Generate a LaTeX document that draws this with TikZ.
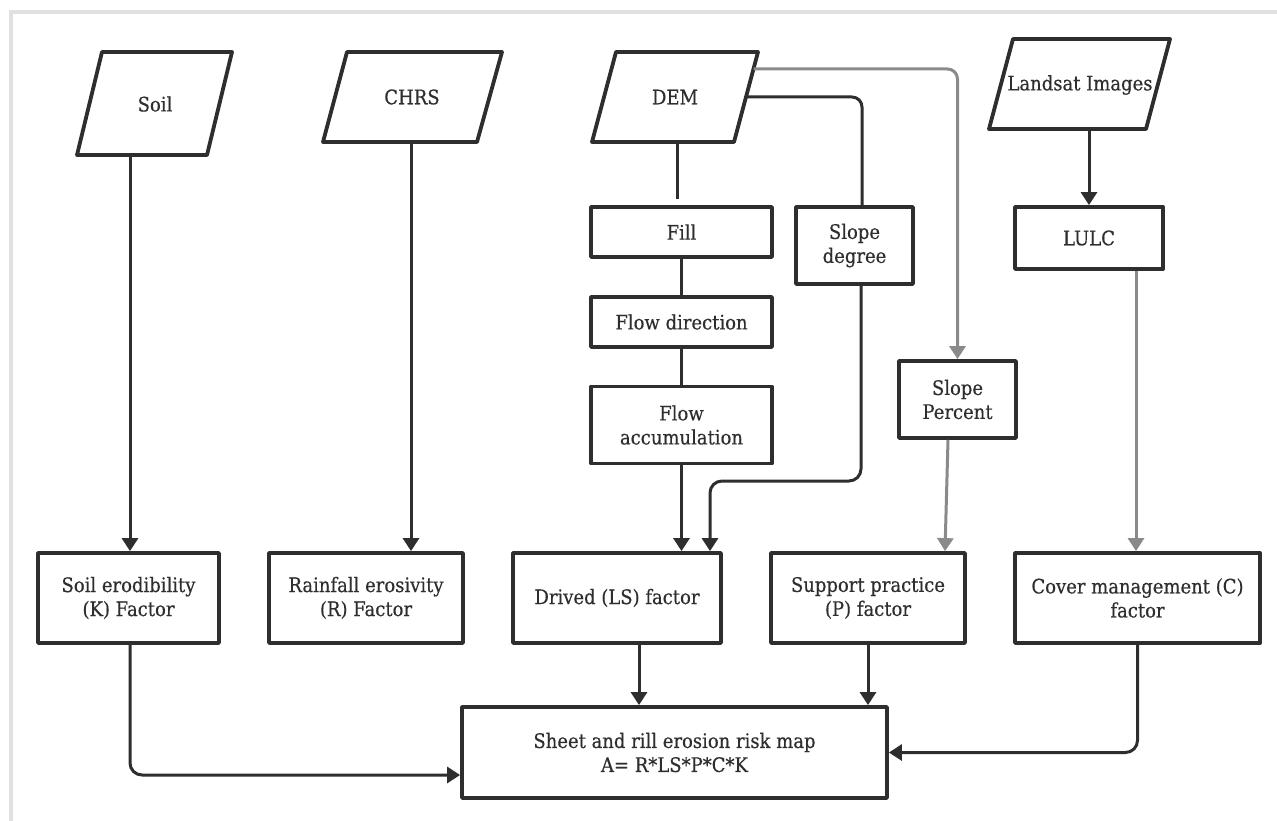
\documentclass[tikz,border=0pt]{standalone}
\usepackage{fontspec}
\setmainfont{DejaVu Serif}[FakeStretch=0.9,FakeBold=0.4]
\usetikzlibrary{arrows.meta,calc}
\definecolor{ink}{HTML}{2E2E2E}
\definecolor{greyline}{HTML}{8A8A8A}
\definecolor{framec}{HTML}{E0E0E0}
\begin{document}
\begin{tikzpicture}[x=1pt,y=-1pt,
  txt/.style={text=ink, font=\fontsize{20}{24}\selectfont, align=center},
  box/.style={txt, draw=ink, line width=3.8pt, line join=round, rectangle, inner sep=0pt},
  para/.style={draw=ink, line width=3.8pt, line join=round},
  lbl/.style={txt, inner sep=0pt},
  plain/.style={draw=ink, line width=3pt},
  conn/.style={plain, -{Triangle[length=13pt,width=16pt]}},
  gconn/.style={draw=greyline, line width=3pt, -{Triangle[length=13pt,width=16pt]}}]
\useasboundingbox (0,0) rectangle (1277,821);
\fill[white] (0,0) rectangle (1277,821);
\draw[framec, line width=4pt] (11,823) -- (11,12) -- (1279,12);

% input parallelograms
\draw[para] (102,52) -- (232,52) -- (207,155) -- (77,155) -- cycle;
\node[lbl] (soil) at (155,104) {Soil};
\coordinate (soilB) at (130,155);

\draw[para] (347,52) -- (502,52) -- (477,142) -- (323,142) -- cycle;
\node[lbl] (chrs) at (412,97) {CHRS};
\coordinate (chrsB) at (411,142);

\draw[para] (616,52) -- (758,52) -- (734,142) -- (592,142) -- cycle;
\node[lbl] (dem) at (675,97) {DEM};
\coordinate (demB) at (677,142);
\coordinate (demR) at (746,97);
\coordinate (demTR) at (753.5,69);

\draw[para] (1013,39) -- (1170,39) -- (1146,129) -- (989,129) -- cycle;
\node[lbl] (land) at (1080,85) {Landsat Images};
\coordinate (landB) at (1089,129);

% process boxes
\node[box, minimum width=181pt, minimum height=50pt] (fill) at (681.5,232) {Fill};
\node[box, minimum width=181pt, minimum height=50pt] (flowdir) at (681.5,322) {Flow direction};
\node[box, minimum width=181pt, minimum height=77pt] (flowacc) at (681.5,425) {Flow\\accumulation};
\node[box, minimum width=117pt, minimum height=77pt] (slopedeg) at (854.5,245.5) {Slope\\degree};
\node[box, minimum width=148pt, minimum height=62pt] (lulc) at (1089,238) {LULC};
\node[box, minimum width=117pt, minimum height=77pt] (slopepct) at (957.5,399.5) {Slope\\Percent};

% factor boxes
\node[box, minimum width=181pt, minimum height=90pt] (K) at (128.5,598) {Soil erodibility\\(K) Factor};
\node[box, minimum width=194pt, minimum height=90pt] (R) at (366,598) {Rainfall erosivity\\(R) Factor};
\node[box, minimum width=208pt, minimum height=90pt] (LS) at (617,598) {Drived (LS) factor};
\node[box, minimum width=194pt, minimum height=90pt] (P) at (868,598) {Support practice\\(P) factor};
\node[box, minimum width=245pt, minimum height=90pt] (C) at (1137.5,598) {Cover management (C)\\factor};

\node[box, minimum width=425pt, minimum height=91pt] (sheet) at (674.5,752.5) {Sheet and rill erosion risk map\\A= R*LS*P*C*K};

% connectors
\draw[conn] (soilB) -- (soilB |- K.north);
\draw[conn] (chrsB) -- (chrsB |- R.north);
\draw[plain, shorten >=6pt] (demB) -- (demB |- fill.north);
\draw[plain] (fill.south) -- (flowdir.north);
\draw[plain] (flowdir.south) -- (flowacc.north);
\draw[conn] (flowacc.south) -- (flowacc.south |- LS.north);
\draw[plain, rounded corners=10pt] (demR) -| ([xshift=7.5pt]slopedeg.north);
\draw[conn, rounded corners=12pt] ([xshift=6.5pt]slopedeg.south) -- (861,481) -- (710,481) -- ([xshift=93pt]LS.north);
\draw[gconn, rounded corners=10pt] (demTR) -| (slopepct.north);
\draw[gconn] ([xshift=-9.5pt]slopepct.south) -- ([xshift=77pt]P.north);
\draw[gconn] ([xshift=47pt]lulc.south) -- ([xshift=47pt]lulc.south |- C.north);
\draw[conn] (landB) -- (lulc.north);
\draw[conn, rounded corners=12pt] ([xshift=1.5pt]K.south) |- ([yshift=-22.5pt]sheet.west);
\draw[conn] ([xshift=22pt]LS.south) -- ([xshift=22pt]LS.south |- sheet.north);
\draw[conn] (P.south) -- (P.south |- sheet.north);
\draw[conn, rounded corners=12pt] (C.south) |- (sheet.east);
\end{tikzpicture}
\end{document}
